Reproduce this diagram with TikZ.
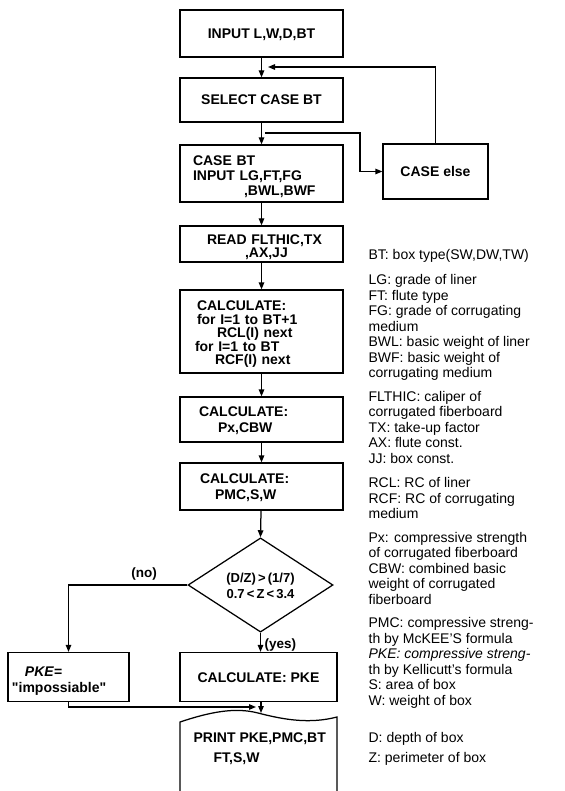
\documentclass[tikz,border=0pt]{standalone}
\usepackage{fontspec}
\setmainfont{Liberation Sans}
\newfontfamily\plainsans{Liberation Sans}
\usetikzlibrary{arrows.meta,shapes.geometric}
\begin{document}
\begin{tikzpicture}[x=1pt,y=-1pt,
  line width=1.25pt,
  arr/.style={-{Triangle[length=7pt,width=5.5pt]}},
  boxfont/.style={font=\bfseries\fontsize{14}{#1}\selectfont},
  onel/.style={text height=10pt, text depth=0pt},
  vt/.style={text height=10pt, text depth=#1},
  vb/.style={text height=#1, text depth=0pt},
  fbox/.style={draw, rectangle, inner sep=0pt, minimum width=163pt, minimum height=#1},
  lbox/.style={text width=163pt, align=left},
  cbox/.style={align=center},
  legend/.style={anchor=base west, inner sep=0pt, font=\fontsize{14}{16}\selectfont}
]
\path[use as bounding box, fill=white] (0,0) rectangle (564,791);

% main column
\node[fbox=47pt, cbox, boxfont=16, onel] (b1) at (261.5,33.5) {INPUT L,W,D,BT};
\node[fbox=44pt, cbox, boxfont=16, onel] (b2) at (261.5,100) {SELECT CASE BT};
\node[fbox=57pt, lbox, boxfont=15, vt=25pt] (b3) at (261.5,173.5)
  {\hspace*{13pt}CASE BT\\\hspace*{13pt}INPUT LG,FT,FG\\\hspace*{64pt},BWL,BWF};
\node[draw, rectangle, inner sep=0pt, minimum width=105pt, minimum height=55pt,
  align=center, boxfont=16, onel] (celse) at (435.5,171.5) {CASE else};
\node[fbox=36pt, lbox, boxfont=13.5, vt=10pt] (b4) at (261.5,244)
  {\hspace*{27pt}READ FLTHIC,TX\\\hspace*{65pt},AX,JJ};
\node[fbox=83pt, lbox, boxfont=13.5, vt=52pt] (b5) at (261.5,331.5)
  {\hspace*{17pt}CALCULATE:\\\hspace*{17pt}for I=1 to BT+1\\\hspace*{37pt}RCL(I) next\\\hspace*{15pt}for I=1 to BT\\\hspace*{35pt}RCF(I) next};
\node[fbox=45pt, lbox, boxfont=16, vt=16pt] (b6) at (261.5,419.5)
  {\hspace*{19pt}CALCULATE:\\\hspace*{38pt}Px,CBW};
\node[fbox=47pt, lbox, boxfont=16, vt=16pt] (b7) at (261.5,486.5)
  {\hspace*{20pt}CALCULATE:\\\hspace*{35pt}PMC,S,W};
\node[draw, diamond, inner sep=0pt, minimum width=145pt, minimum height=94pt,
  align=center, font=\bfseries\fontsize{13}{16}\selectfont, vb=26pt] (dec) at (260.5,585)
  {(D/Z)\,>\,(1/7)\\0.7\,<\,Z\,<\,3.4};
\node[draw, rectangle, inner sep=0pt, minimum width=157pt, minimum height=49pt,
  align=center, boxfont=16, onel] (cpke) at (258.5,677) {CALCULATE: PKE};
\node[draw, rectangle, inner sep=0pt, minimum width=121pt, minimum height=49pt,
  text width=121pt, align=left, boxfont=16, vt=12pt] (ipke) at (68.5,677)
  {\hspace*{17pt}\itshape PKE=\\\hspace*{4pt}\plainsans\bfseries\upshape "impossiable"};

% print (document) shape
\coordinate (pl) at (180,722);
\coordinate (pr) at (337,717);
\coordinate (ptop) at (261,713);
\draw (180,791) -- (pl) .. controls (210,712) and (235,707) .. (258,713)
  .. controls (285,720) and (310,724) .. (pr) -- (337,791);
\node[anchor=base west, inner sep=0pt, align=left, boxfont=20] (print) at (193,762)
  {PRINT PKE,PMC,BT\\\hspace*{20pt}FT,S,W};

% labels
\node[inner sep=0pt, font=\bfseries\fontsize{13.5}{16}\selectfont] (nolab) at (144,574) {(no)};
\node[anchor=west, inner sep=0pt, font=\bfseries\fontsize{13.5}{16}\selectfont] (yeslab) at (264,645) {(yes)};

% connectors
\draw[arr] (b1) -- (b2);
\coordinate (fbend) at (268,67);
\draw[arr] (celse.north) |- (fbend);
\draw[arr] (b2) -- (b3);
\coordinate (brs) at (265,133);
\coordinate (brc) at (360,133);
\draw[arr] (brs) -- (brc) |- (celse.west);
\draw[arr] (b3) -- (b4);
\draw[arr] (b4) -- (b5);
\draw[arr] (b5) -- (b6);
\draw[arr] (b6) -- (b7);
\draw[arr] (b7) -- (dec.north);
\draw[arr] (dec.west) -| (ipke.north);
\draw[arr] (dec.south) -- (dec.south |- cpke.north);
\coordinate (mend) at (256,707);
\draw[arr] (ipke.south) |- (mend);
\draw[arr] (cpke.south -| ptop) -- (ptop);

% legend
\foreach \yy/\ltxt [count=\i] in {
 259/{BT: box type(SW,DW,TW)},
 284.5/{LG: grade of liner},
 300/{FT: flute type},
 315.5/{FG: grade of corrugating},
 331/{medium},
 346.5/{BWL: basic weight of liner},
 362/{BWF: basic weight of},
 377.5/{corrugating medium},
 401/{FLTHIC: caliper of},
 416.5/{corrugated fiberboard},
 432/{TX: take-up factor},
 447.5/{AX: flute const.},
 463/{JJ: box const.},
 487.5/{RCL: RC of liner},
 503/{RCF: RC of corrugating},
 518.5/{medium},
 542/{Px: compressive strength},
 557.5/{of corrugated fiberboard},
 573/{CBW: combined basic},
 588.5/{weight of corrugated},
 604/{fiberboard},
 627.5/{PMC: compressive streng-},
 643/{th by McKEE'S formula},
 658.5/{\itshape PKE: compressive streng-},
 674/{th by Kellicutt's formula},
 689.5/{S: area of box},
 705/{W: weight of box},
 742/{D: depth of box},
 762/{Z: perimeter of box}}
 \node[legend] (lg\i) at (368,\yy) {\ltxt};
\end{tikzpicture}
\end{document}
